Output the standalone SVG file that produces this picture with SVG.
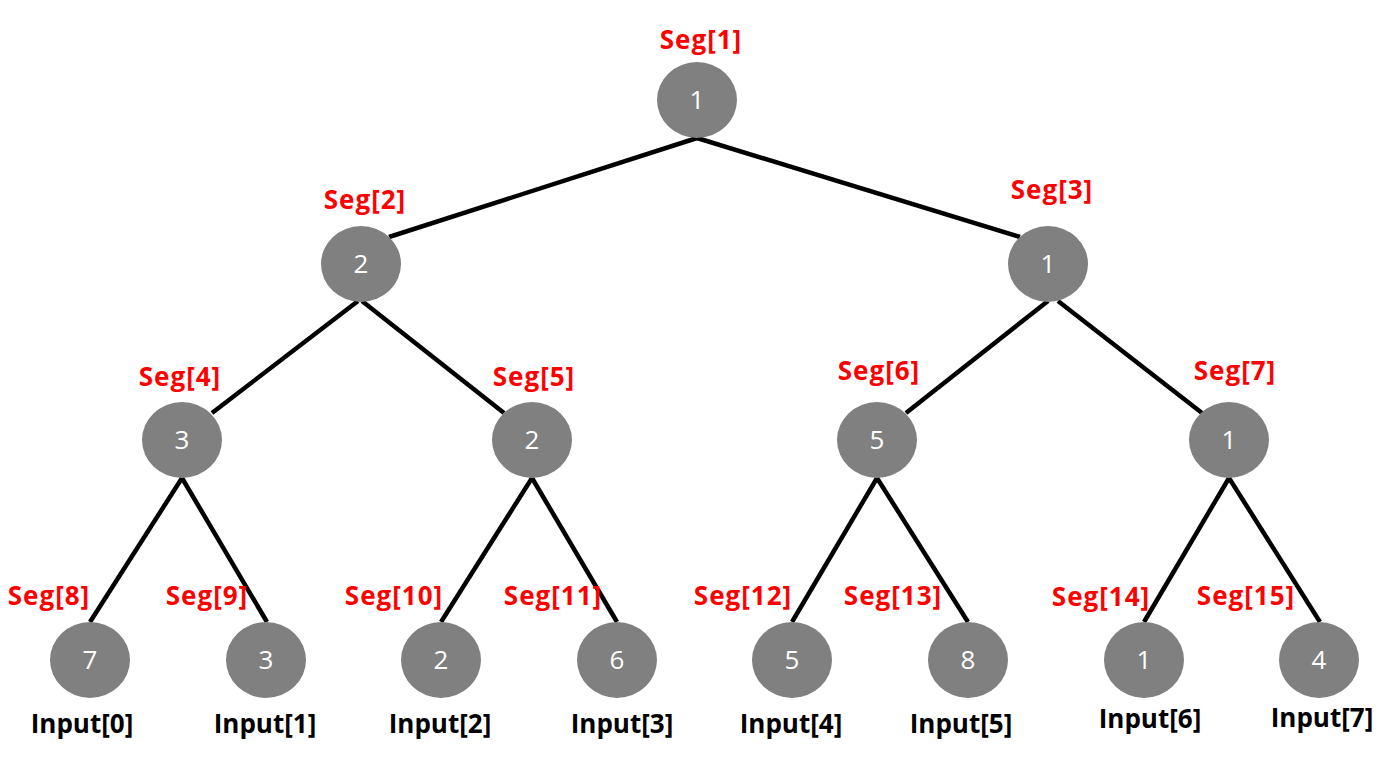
<svg xmlns="http://www.w3.org/2000/svg" width="1390" height="766" viewBox="0 0 1390 766">
<style>
.n ellipse{fill:#808080}
.v{font-family:"Open Sans","Noto Sans",sans-serif;font-size:26px;fill:#fff;text-anchor:middle}
.s{font-family:"Open Sans","Noto Sans",sans-serif;font-size:26px;font-weight:bold;fill:#ff0000;text-anchor:middle;letter-spacing:1px}
.i{font-family:"Open Sans","Noto Sans",sans-serif;font-size:26px;font-weight:bold;fill:#000;text-anchor:middle}
.e line{stroke:#000;stroke-width:4.5}
</style>
<rect width="1390" height="766" fill="#fff"/>
<g id="edges" class="e">
<line x1="697" y1="138" x2="389" y2="237"/>
<line x1="697" y1="138" x2="1020" y2="237"/>
<line x1="358" y1="301" x2="212" y2="413"/>
<line x1="362" y1="301" x2="504" y2="413"/>
<line x1="1048" y1="301" x2="906" y2="413"/>
<line x1="1058" y1="301" x2="1202" y2="413"/>
<line x1="182" y1="478" x2="90" y2="622"/>
<line x1="182" y1="478" x2="267" y2="622"/>
<line x1="532" y1="478" x2="441" y2="622"/>
<line x1="532" y1="478" x2="617" y2="622"/>
<line x1="877" y1="478" x2="792" y2="622"/>
<line x1="877" y1="478" x2="968" y2="622"/>
<line x1="1229" y1="478" x2="1144" y2="622"/>
<line x1="1229" y1="478" x2="1320" y2="622"/>
</g>
<g id="seg1" class="n"><ellipse cx="697" cy="100" rx="40" ry="38"/><text class="v" x="697" y="109">1</text><text class="s" x="701" y="49">Seg[1]</text></g>
<g id="seg2" class="n"><ellipse cx="361" cy="264" rx="40" ry="38"/><text class="v" x="361" y="273">2</text><text class="s" x="365" y="209">Seg[2]</text></g>
<g id="seg3" class="n"><ellipse cx="1048" cy="264" rx="40" ry="38"/><text class="v" x="1048" y="273">1</text><text class="s" x="1052" y="199">Seg[3]</text></g>
<g id="seg4" class="n"><ellipse cx="182" cy="440" rx="40" ry="38"/><text class="v" x="182" y="449">3</text><text class="s" x="180" y="386">Seg[4]</text></g>
<g id="seg5" class="n"><ellipse cx="532" cy="440" rx="40" ry="38"/><text class="v" x="532" y="449">2</text><text class="s" x="534" y="386">Seg[5]</text></g>
<g id="seg6" class="n"><ellipse cx="877" cy="440" rx="40" ry="38"/><text class="v" x="877" y="449">5</text><text class="s" x="879" y="380">Seg[6]</text></g>
<g id="seg7" class="n"><ellipse cx="1229" cy="440" rx="40" ry="38"/><text class="v" x="1229" y="449">1</text><text class="s" x="1235" y="380">Seg[7]</text></g>
<g id="seg8" class="n"><ellipse cx="90" cy="660" rx="40" ry="38"/><text class="v" x="90" y="669">7</text><text class="s" x="49" y="605">Seg[8]</text><text class="i" x="82" y="733">Input[0]</text></g>
<g id="seg9" class="n"><ellipse cx="266" cy="660" rx="40" ry="38"/><text class="v" x="266" y="669">3</text><text class="s" x="207" y="605">Seg[9]</text><text class="i" x="265" y="733">Input[1]</text></g>
<g id="seg10" class="n"><ellipse cx="441" cy="660" rx="40" ry="38"/><text class="v" x="441" y="669">2</text><text class="s" x="394" y="605">Seg[10]</text><text class="i" x="440" y="733">Input[2]</text></g>
<g id="seg11" class="n"><ellipse cx="617" cy="660" rx="40" ry="38"/><text class="v" x="617" y="669">6</text><text class="s" x="553" y="605">Seg[11]</text><text class="i" x="622" y="733">Input[3]</text></g>
<g id="seg12" class="n"><ellipse cx="792" cy="660" rx="40" ry="38"/><text class="v" x="792" y="669">5</text><text class="s" x="743" y="605">Seg[12]</text><text class="i" x="791" y="733">Input[4]</text></g>
<g id="seg13" class="n"><ellipse cx="968" cy="660" rx="40" ry="38"/><text class="v" x="968" y="669">8</text><text class="s" x="893" y="605">Seg[13]</text><text class="i" x="961" y="733">Input[5]</text></g>
<g id="seg14" class="n"><ellipse cx="1144" cy="660" rx="40" ry="38"/><text class="v" x="1144" y="669">1</text><text class="s" x="1101" y="606">Seg[14]</text><text class="i" x="1150" y="728">Input[6]</text></g>
<g id="seg15" class="n"><ellipse cx="1319" cy="660" rx="40" ry="38"/><text class="v" x="1319" y="669">4</text><text class="s" x="1246" y="605">Seg[15]</text><text class="i" x="1322" y="727">Input[7]</text></g>
</svg>
